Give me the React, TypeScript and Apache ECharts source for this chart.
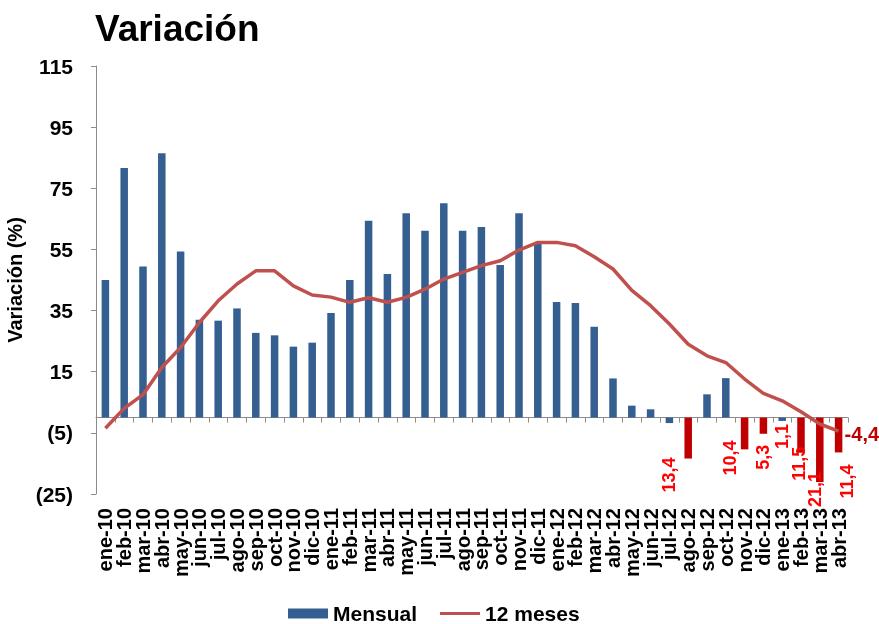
import React, { useEffect, useRef } from "react";
import * as echarts from "echarts";

const meses = [
  "ene-10", "feb-10", "mar-10", "abr-10", "may-10", "jun-10", "jul-10", "ago-10", "sep-10", "oct-10", "nov-10", "dic-10",
  "ene-11", "feb-11", "mar-11", "abr-11", "may-11", "jun-11", "jul-11", "ago-11", "sep-11", "oct-11", "nov-11", "dic-11",
  "ene-12", "feb-12", "mar-12", "abr-12", "may-12", "jun-12", "jul-12", "ago-12", "sep-12", "oct-12", "nov-12", "dic-12",
  "ene-13", "feb-13", "mar-13", "abr-13",
];

const mensual = [
  45.0, 81.6, 49.4, 86.5, 54.3, 32.0, 31.7, 35.7, 27.7, 26.9, 23.2, 24.5,
  34.2, 45.0, 64.4, 47.0, 66.8, 61.1, 70.1, 61.1, 62.3, 49.9, 66.8, 56.8,
  37.8, 37.5, 29.7, 12.8, 3.9, 2.7, -1.8, -13.4, 7.6, 12.9, -10.4, -5.3,
  -1.1, -11.5, -21.1, -11.4,
];

const doceMeses = [
  -3.5, 3.0, 7.5, 16.4, 22.9, 31.1, 38.2, 43.7, 48.0, 48.0, 43.1, 40.1,
  39.4, 37.7, 39.2, 37.7, 39.3, 42.0, 45.3, 47.5, 49.7, 51.3, 54.8, 57.3,
  57.3, 56.2, 52.6, 48.6, 41.6, 36.6, 30.6, 24.0, 20.2, 18.0, 12.6, 7.9,
  5.5, 1.9, -2.1, -4.4,
];

const yTicks = [-25, -5, 15, 35, 55, 75, 95, 115];
const mesesSinEtiqueta = ["jul-12"];

// small manual nudges (screen dx, dy) of the red value labels, as placed in the original
const ajusteEtiqueta: Record<string, [number, number]> = {
  "ago-12": [-19, -3],
  "nov-12": [-15, -11],
  "dic-12": [0, 9],
  "ene-13": [0, 1],
  "feb-13": [-2, -8],
  "mar-13": [-5, -12],
  "abr-13": [8, 10],
};

const FONT = "'Liberation Sans', Arial, sans-serif";
const fmtAbs = (v: number) => Math.abs(v).toFixed(1).replace(".", ",");
const fmtSigned = (v: number) => v.toFixed(1).replace(".", ",");

export default function App() {
  const ref = useRef<HTMLDivElement>(null);

  useEffect(() => {
    const chart = echarts.init(ref.current!, null, { renderer: "svg" });

    const barData = mensual.map((v, i) => {
      const [dx, dy] = ajusteEtiqueta[meses[i]] || [0, 0];
      return {
        value: v,
        itemStyle: v <= -5 ? { color: "#C00000" } : undefined,
        label: {
          show: v < 0 && !mesesSinEtiqueta.includes(meses[i]),
          // label is rotated 90°, so its offset is expressed in the rotated frame
          offset: [-dy, dx],
        },
      };
    });

    chart.setOption({
      animation: false,
      textStyle: { fontFamily: FONT },
      title: {
        text: "Variación",
        left: 90,
        top: 5,
        textStyle: { fontSize: 37, fontWeight: "bold", color: "#000", fontFamily: FONT },
      },
      legend: {
        left: 288,
        top: 603,
        padding: 0,
        itemWidth: 40,
        itemHeight: 10,
        itemGap: 23,
        textStyle: {
          fontSize: 21,
          lineHeight: 20,
          fontWeight: "bold",
          color: "#000",
          fontFamily: FONT,
        },
        data: [
          { name: "Mensual", icon: "rect" },
          { name: "12 meses", icon: "path://M0,0h40v3.2h-40z" },
        ],
      },
      grid: {
        left: 96,
        right: 31,
        top: 66,
        bottom: 130,
        containLabel: false,
        outerBoundsMode: "none",
      },
      xAxis: [
        {
          type: "category",
          data: meses,
          position: "bottom",
          axisLine: { show: false, onZero: false },
          axisTick: { show: false },
          axisLabel: {
            interval: 0,
            rotate: 90,
            margin: 14,
            fontSize: 20,
            fontWeight: "bold",
            color: "#000",
            fontFamily: FONT,
          },
        },
        {
          type: "category",
          data: meses,
          position: "bottom",
          axisLine: { show: true, onZero: true, lineStyle: { color: "#8C8C8C", width: 1 } },
          axisTick: { show: true, interval: 0, length: 5, lineStyle: { color: "#8C8C8C" } },
          axisLabel: { show: false },
        },
      ],
      yAxis: {
        type: "value",
        min: -25,
        max: 115,
        name: "Variación (%)",
        nameLocation: "middle",
        nameRotate: 90,
        nameGap: 62,
        nameTextStyle: { fontSize: 20, fontWeight: "bold", color: "#000", fontFamily: FONT },
        axisLine: { show: true, lineStyle: { color: "#8C8C8C", width: 1 } },
        axisTick: { show: true, length: 5, customValues: yTicks, lineStyle: { color: "#8C8C8C" } },
        splitLine: { show: false },
        axisLabel: {
          customValues: yTicks,
          margin: 23,
          fontSize: 21,
          fontWeight: "bold",
          color: "#000",
          fontFamily: FONT,
          formatter: (v: number) => (v < 0 ? `(${-v})` : `${v}`),
        },
      },
      series: [
        {
          name: "Mensual",
          type: "bar",
          xAxisIndex: 0,
          yAxisIndex: 0,
          barWidth: "40%",
          itemStyle: { color: "#365F91" },
          label: {
            show: false,
            position: "bottom",
            rotate: 90,
            align: "right",
            verticalAlign: "middle",
            distance: 2,
            color: "#FF0000",
            fontSize: 18,
            fontWeight: "bold",
            fontFamily: FONT,
            formatter: (p: any) => fmtAbs(p.value),
          },
          data: barData,
          z: 2,
        },
        {
          name: "12 meses",
          type: "line",
          xAxisIndex: 0,
          yAxisIndex: 0,
          symbol: "none",
          showSymbol: false,
          lineStyle: { color: "#C0504D", width: 3.5 },
          itemStyle: { color: "#C0504D" },
          endLabel: {
            show: true,
            distance: 6,
            offset: [0, 3],
            color: "#C00000",
            fontSize: 20,
            fontWeight: "bold",
            fontFamily: FONT,
            formatter: (p: any) => fmtSigned(p.value),
          },
          data: doceMeses,
          z: 3,
        },
      ],
    });

    return () => chart.dispose();
  }, []);

  return (
    <div
      ref={ref}
      style={{ position: "fixed", left: 0, top: 0, width: 879, height: 624 }}
    />
  );
}
